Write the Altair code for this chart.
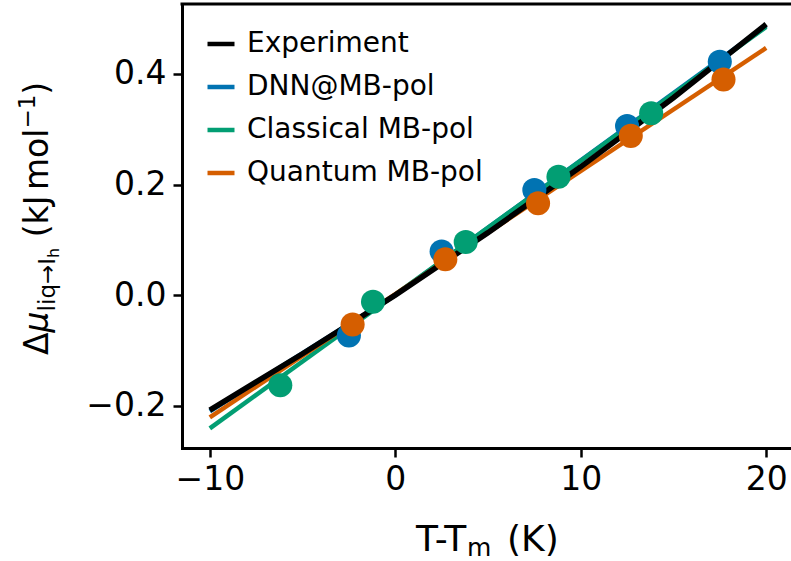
import altair as alt
import pandas as pd

# ---- data ----
series = ["Experiment", "DNN@MB-pol", "Classical MB-pol", "Quantum MB-pol"]
colors = ["#000000", "#0173b2", "#029e73", "#d55e00"]

exp_line_x = [-10, -5, 0, 5, 10, 15, 20]
exp_line_y = [-0.208, -0.106, 0.0, 0.113, 0.232, 0.357, 0.490]
dnn_line_x = [-10, 0, 20]
dnn_line_y = [-0.210, 0.0, 0.487]
cls_line_x = [-10, 20]
cls_line_y = [-0.241, 0.485]
qnt_line_x = [-10, 20]
qnt_line_y = [-0.221, 0.447]

dnn_x = [-2.5, 2.5, 7.5, 12.5, 17.5]
dnn_y = [-0.073, 0.079, 0.190, 0.306, 0.422]
cls_x = [-6.2, -1.2, 3.8, 8.8, 13.8]
cls_y = [-0.163, -0.012, 0.096, 0.214, 0.329]
qnt_x = [-2.3, 2.7, 7.7, 12.7, 17.7]
qnt_y = [-0.053, 0.065, 0.166, 0.288, 0.390]

x_ticks = [-10, 0, 10, 20]
y_ticks = [-0.2, 0.0, 0.2, 0.4]

W, H = 609, 444
FONT = "DejaVu Sans"

xscale = alt.Scale(domain=[-11.5, 21.34], nice=False, zero=False)
yscale = alt.Scale(domain=[-0.2765, 0.5265], nice=False, zero=False)
cscale = alt.Scale(domain=series, range=colors)

xaxis = alt.Axis(values=x_ticks, title=None, grid=False,
                 labelExpr="replace(format(datum.value, 'd'), '-', '\u2212')",
                 labelFontSize=33, labelPadding=6, tickSize=9, tickWidth=2.5,
                 domainWidth=3, domainColor="black", tickColor="black",
                 labelColor="black", domainCap="square", labelFont=FONT)
yaxis = alt.Axis(values=y_ticks, title=None, grid=False,
                 labelExpr="replace(format(datum.value, '.1f'), '-', '\u2212')",
                 labelFontSize=33, labelPadding=7, tickSize=9, tickWidth=2.5,
                 domainWidth=3, domainColor="black", tickColor="black",
                 labelColor="black", domainCap="square", labelFont=FONT)

legend = alt.Legend(title=None, orient="none", legendX=23, legendY=24,
                    symbolType="stroke", symbolSize=729, symbolStrokeWidth=4.5,
                    labelFontSize=28, labelOffset=10, rowPadding=13,
                    padding=0, labelFont=FONT, labelColor="black",
                    labelLimit=0, values=series)


def line_df(xs, ys, name):
    return pd.DataFrame({"x": xs, "y": ys, "series": name})


def enc(show_legend=False):
    return dict(
        x=alt.X("x:Q", scale=xscale, axis=xaxis),
        y=alt.Y("y:Q", scale=yscale, axis=yaxis),
        color=alt.Color("series:N", scale=cscale,
                        legend=legend if show_legend else None),
    )


def line_layer(df, width, show_legend=False):
    return alt.Chart(df).mark_line(strokeWidth=width, clip=True).encode(**enc(show_legend))


def point_layer(df):
    return alt.Chart(df).mark_circle(size=580, opacity=1, clip=True).encode(**enc())


layers = [
    line_layer(line_df(dnn_line_x, dnn_line_y, series[1]), 4.5, show_legend=True),
    line_layer(line_df(cls_line_x, cls_line_y, series[2]), 4.5),
    line_layer(line_df(qnt_line_x, qnt_line_y, series[3]), 4.5),
    line_layer(line_df(exp_line_x, exp_line_y, series[0]), 5.5),
    point_layer(line_df(dnn_x, dnn_y, series[1])),
    point_layer(line_df(cls_x, cls_y, series[2])),
    point_layer(line_df(qnt_x, qnt_y, series[3])),
]

one = pd.DataFrame({"a": [0]})

# top frame line
layers.append(alt.Chart(one).mark_rule(strokeWidth=3, color="black").encode(
    x=alt.value(-1.5), x2=alt.value(W), y=alt.value(0)))


def txt(s, x, y, size, angle=0, style="normal"):
    kw = dict(text=s, font=FONT, fontSize=size, align="left",
              baseline="alphabetic", color="black", fontStyle=style)
    if angle:
        kw["angle"] = angle
    return alt.Chart(one).mark_text(**kw).encode(x=alt.value(x), y=alt.value(y))


# x-axis title: T-T_m (K)
layers += [
    txt("T-T", 234, 547, 36),
    txt("m", 285, 552, 25),
    txt("(K)", 325, 547, 36),
]

# y-axis title: Δμ_{liq→I_h} (kJ mol^-1)
bx = -134
layers += [
    txt("Δ", bx, 351, 33, 270),
    txt("μ", bx, 328.4, 33, 270, "italic"),
    txt("liq→I", bx + 7, 307.4, 23, 270),
    txt("h", bx + 11, 253.9, 16, 270),
    txt("(kJ", bx, 233.3, 33, 270),
    txt("mol", bx, 186.1, 33, 270),
    txt("\u22121", bx - 13, 124.6, 23, 270),
    txt(")", bx, 90.7, 33, 270),
]

chart = alt.layer(*layers).properties(
    width=W, height=H,
    padding={"left": 182, "top": 4, "right": 0, "bottom": 113},
    autosize=alt.AutoSizeParams(type="none"),
).configure(font=FONT).configure_view(stroke=None)

chart.save("out.html", embed_options={"renderer": "svg", "actions": False})
